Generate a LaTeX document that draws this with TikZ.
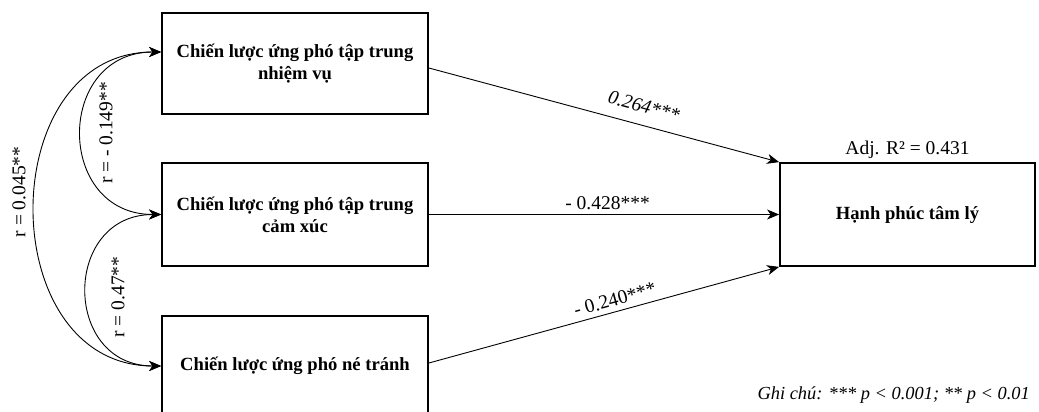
\documentclass[tikz,border=0pt]{standalone}
\usepackage{fontspec}
\setmainfont{Liberation Serif}
\usetikzlibrary{arrows.meta,calc}
\begin{document}
\begin{tikzpicture}[x=1pt,y=-1pt,
  boxnode/.style={draw,line width=1.8pt,minimum width=266pt,align=center,font=\fontsize{18.6}{22}\selectfont\bfseries,inner sep=0pt},
  tip/.style={-{Stealth[length=12pt,width=10pt,inset=3.5pt]}},
  bitip/.style={{Stealth[length=12pt,width=10pt,inset=3.5pt]}-{Stealth[length=12pt,width=10pt,inset=3.5pt]}},
  conn/.style={line width=0.9pt},
  lbl/.style={font=\fontsize{19.5}{23}\selectfont,inner sep=2pt}]
\useasboundingbox (0,0) rectangle (1039,412);
\fill[white] (0,0) rectangle (1039,412);
\node[boxnode,minimum height=101pt] (b1) at (295,63.5) {Chiến lược ứng phó tập trung\\nhiệm vụ};
\node[boxnode,minimum height=103pt] (b2) at (295,214.5) {Chiến lược ứng phó tập trung\\cảm xúc};
\node[boxnode,minimum height=100pt] (b3) at (295,366) {Chiến lược ứng phó né tránh};
\node[boxnode,minimum width=255pt,minimum height=103pt] (b4) at (907.5,214.5) {Hạnh phúc tâm lý};
\coordinate (o1) at ($(b1.east)+(0,4.5)$);
\coordinate (o3) at ($(b3.east)+(0,-3)$);
\coordinate (i1) at ($(b1.west)+(0,-11.5)$);
\coordinate (i2) at (b2.west);
\coordinate (i3) at (b3.west);
\draw[conn,tip] (o1) -- node[lbl,pos=0.6,sloped,above=10pt,font=\fontsize{19.5}{23}\selectfont\itshape] {0.264***} (b4.north west);
\draw[conn,tip] (b2.east) -- node[lbl,pos=0.51,above=2pt] {- 0.428***} (b4.west);
\draw[conn,tip] (o3) -- node[lbl,pos=0.54,sloped,above=3pt] {- 0.240***} (b4.south west);
\draw[conn,bitip] (i1) .. controls (55,52) and (55,214.5) .. (i2);
\draw[conn,bitip] (i2) .. controls (62,214.5) and (62,366) .. (i3);
\draw[conn,bitip] (i1) .. controls (-7,52) and (-7,366) .. (i3);
\node[lbl,rotate=90] (l12) at (106,133) {r = - 0.149**};
\node[lbl,rotate=90] (l23) at (118,297) {r = 0.47**};
\node[lbl,rotate=90] (l13) at (19,192) {r = 0.045**};
\node[lbl,anchor=south,inner sep=3pt] (adj) at (b4.north) {Adj. R² = 0.431};
\node[lbl,anchor=east,font=\fontsize{18.4}{22}\selectfont\itshape] (note) at (1032,395) {Ghi chú: *** p < 0.001; ** p < 0.01};
\end{tikzpicture}
\end{document}
